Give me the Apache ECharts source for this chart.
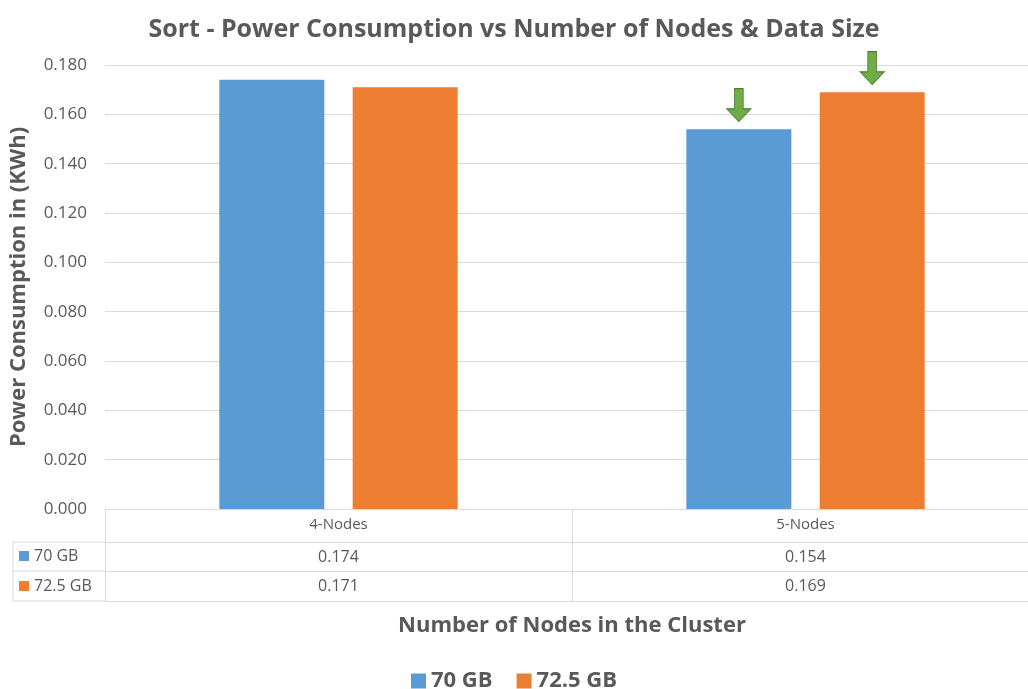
<!DOCTYPE html>
<html>
<head>
	<meta charset="utf-8"/>
	<title>Sort - Power Consumption</title>
	<style type="text/css">
		html,body{
			margin: 0;
			padding: 0;
			background: #ffffff;
		}
		#chart{
			width: 1028px;
			height: 689px;
		}
	</style>
</head>
<body>
	<div id="chart"></div>

	<script src="https://cdn.jsdelivr.net/npm/echarts@6/dist/echarts.min.js"></script>
	<script type="text/javascript">

		// data
		var categories = ['4-Nodes', '5-Nodes'];
		var seriesNames = ['70 GB', '72.5 GB'];
		var gb70 = [0.174, 0.154];
		var gb725 = [0.171, 0.169];
		// arrows drawn over the 5-Nodes bars
		var arrowCategory = '5-Nodes';

		var font = "'Open Sans', sans-serif";
		var grey = '#595959';
		var lineGrey = '#d9d9d9';
		var colors = ['#5B9BD5', '#ED7D31'];

		var arrowPath = 'path://M7,0 L15,0 L15,19 L22,19 L11,31 L0,19 L7,19 Z';

		function arrowFor(values) {
			var i = categories.indexOf(arrowCategory);
			return {
				symbol: arrowPath,
				symbolSize: [24, 33],
				symbolOffset: [0, -24],
				silent: true,
				label: { show: false },
				itemStyle: { color: '#70AD47', borderColor: '#507E32', borderWidth: 1 },
				data: [{ coord: [arrowCategory, values[i]] }]
			};
		}

		function tableRow(values, offset) {
			return {
				type: 'category',
				position: 'bottom',
				offset: offset,
				data: categories,
				axisLine: { show: true, lineStyle: { color: lineGrey } },
				axisTick: { show: false },
				axisLabel: {
					margin: 7,
					fontFamily: font,
					fontSize: 16,
					color: grey,
					formatter: function (v, i) { return values[i].toFixed(3); }
				}
			};
		}

		var chart = echarts.init(document.getElementById('chart'));

		var option = {
			animation: false,
			textStyle: { fontFamily: font },
			title: {
				text: 'Sort - Power Consumption vs Number of Nodes & Data Size',
				left: 'center',
				top: 12,
				textStyle: { fontFamily: font, fontSize: 25, fontWeight: 'bold', color: grey }
			},
			grid: { left: 105, top: 65, width: 934, height: 444, outerBoundsMode: 'none' },
			legend: {
				data: seriesNames,
				top: 665,
				left: 'center',
				itemWidth: 15,
				itemHeight: 15,
				itemGap: 24,
				icon: 'rect',
				textStyle: { fontFamily: font, fontSize: 22, fontWeight: 'bold', color: grey }
			},
			xAxis: [
				{
					type: 'category',
					data: categories,
					axisLine: { show: true, lineStyle: { color: lineGrey } },
					axisTick: { show: true, length: 92, lineStyle: { color: lineGrey } },
					axisLabel: { margin: 8, fontFamily: font, fontSize: 15, color: grey }
				},
				tableRow(gb70, 33),
				tableRow(gb725, 62),
				{
					type: 'category',
					position: 'bottom',
					offset: 92,
					data: categories,
					axisLine: { show: true, lineStyle: { color: lineGrey } },
					axisTick: { show: false },
					axisLabel: { show: false },
					name: 'Number of Nodes in the Cluster',
					nameLocation: 'middle',
					nameGap: 14,
					nameTextStyle: { fontFamily: font, fontSize: 22, fontWeight: 'bold', color: grey }
				}
			],
			yAxis: {
				type: 'value',
				min: 0,
				max: 0.18,
				interval: 0.02,
				name: 'Power Consumption in (KWh)',
				nameLocation: 'middle',
				nameGap: 75,
				nameTextStyle: { fontFamily: font, fontSize: 22, fontWeight: 'bold', color: grey },
				axisLine: { show: false },
				axisTick: { show: false },
				splitLine: { lineStyle: { color: lineGrey, width: 1 } },
				axisLabel: {
					margin: 18,
					fontFamily: font,
					fontSize: 17,
					color: grey,
					formatter: function (v) { return v.toFixed(3); }
				}
			},
			graphic: [
				// left column of the data table (legend keys)
				{ type: 'line', shape: { x1: 13, y1: 542, x2: 105, y2: 542 }, style: { stroke: lineGrey } },
				{ type: 'line', shape: { x1: 13, y1: 571, x2: 105, y2: 571 }, style: { stroke: lineGrey } },
				{ type: 'line', shape: { x1: 13, y1: 601, x2: 105, y2: 601 }, style: { stroke: lineGrey } },
				{ type: 'line', shape: { x1: 13, y1: 542, x2: 13, y2: 601 }, style: { stroke: lineGrey } },
				{ type: 'rect', shape: { x: 19, y: 551, width: 10, height: 10 }, style: { fill: colors[0] } },
				{ type: 'text', x: 34, y: 556, style: { text: seriesNames[0], font: '16px ' + font, fill: grey, verticalAlign: 'middle' } },
				{ type: 'rect', shape: { x: 19, y: 581, width: 10, height: 10 }, style: { fill: colors[1] } },
				{ type: 'text', x: 34, y: 586, style: { text: seriesNames[1], font: '16px ' + font, fill: grey, verticalAlign: 'middle' } }
			],
			series: [
				{
					name: seriesNames[0],
					type: 'bar',
					data: gb70,
					barWidth: 105,
					barGap: '27%',
					itemStyle: { color: colors[0] },
					markPoint: arrowFor(gb70)
				},
				{
					name: seriesNames[1],
					type: 'bar',
					data: gb725,
					barWidth: 105,
					barGap: '27%',
					itemStyle: { color: colors[1] },
					markPoint: arrowFor(gb725)
				}
			]
		};

		chart.setOption(option);

	</script>
</body>
</html>
